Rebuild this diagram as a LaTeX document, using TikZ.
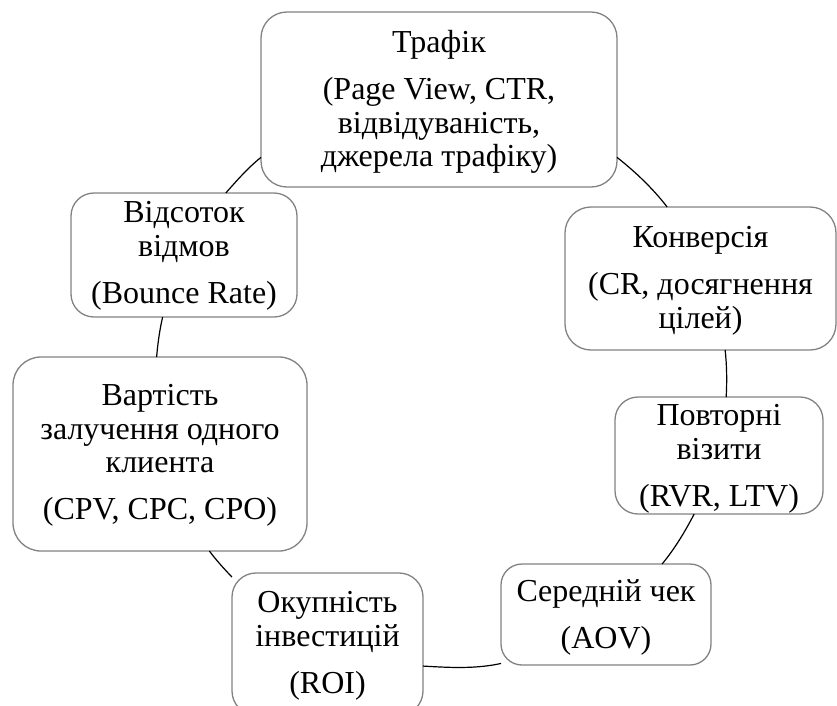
\documentclass[tikz,border=0pt]{standalone}
\usepackage{fontspec}
\setmainfont{Liberation Serif}
\definecolor{boxgray}{RGB}{130,130,130}
\begin{document}
\begin{tikzpicture}[x=1pt,y=1pt,
  box/.style={draw=boxgray, line width=1.3pt, fill=white, inner sep=0pt, outer sep=0pt},
  lbl/.style={font=\fontsize{32}{33.5}\selectfont, align=center, inner sep=0pt},
  conn/.style={line width=1.2pt, looseness=0.86}]
\useasboundingbox (0,0) rectangle (837,-705);
% boxes
\node[box, minimum width=356pt, minimum height=175pt, rounded corners=26pt] (traf) at (439,-99.5) {};
\node[box, minimum width=271pt, minimum height=143pt, rounded corners=26pt] (konv) at (700.5,-278.5) {};
\node[box, minimum width=208pt, minimum height=117pt, rounded corners=23pt] (povt) at (719,-455.5) {};
\node[box, minimum width=210pt, minimum height=101pt, rounded corners=21pt] (ser) at (606,-614.5) {};
\node[box, minimum width=191pt, minimum height=142pt, rounded corners=24pt] (okup) at (327.5,-644) {};
\node[box, minimum width=294pt, minimum height=194pt, rounded corners=28pt] (vart) at (160,-454) {};
\node[box, minimum width=226pt, minimum height=124pt, rounded corners=23pt] (vids) at (184,-255) {};
% texts
\node[lbl] (ttraf) at (439,-102) {Трафік\\[13.5pt](Page View, CTR,\\відвідуваність,\\джерела трафіку)};
\node[lbl] (tkonv) at (700.5,-280.7) {Конверсія\\[13.5pt](CR, досягнення\\цілей)};
\node[lbl] (tpovt) at (719,-459) {Повторні\\візити\\[13.5pt](RVR, LTV)};
\node[lbl] (tser) at (606,-617) {Середній чек\\[13.5pt](AOV)};
\node[lbl] (tokup) at (327.5,-646) {Окупність\\інвестицій\\[13.5pt](ROI)};
\node[lbl] (tvart) at (160,-455.5) {Вартість\\залучення одного\\клиента\\[13.5pt](CPV, CPC, CPO)};
\node[lbl] (tvids) at (184,-255.8) {Відсоток\\відмов\\[13.5pt](Bounce Rate)};
% connectors (arcs of one circle)
\draw[conn] (traf.-18.45) to[out=-38.4, in=127.7] (konv.115.6);
\draw[conn] (konv.-71.66) to[out=-83.58, in=87.0] (povt.83.56);
\draw[conn] (povt.-113.39) to[out=-117.49, in=50.48] (ser.42.77);
\draw[conn] (ser.-155.93) to[out=-167.68, in=-3.41] (okup.-13.82);
\draw[conn] (okup.145.47) to[out=133.34, in=-53.77] (vart.-63.06);
\draw[conn] (vart.92.89) to[out=84.99, in=-103.14] (vids.-109.95);
\draw[conn] (vids.56.27) to[out=48.63, in=218.74] (traf.198.45);
\end{tikzpicture}
\end{document}
